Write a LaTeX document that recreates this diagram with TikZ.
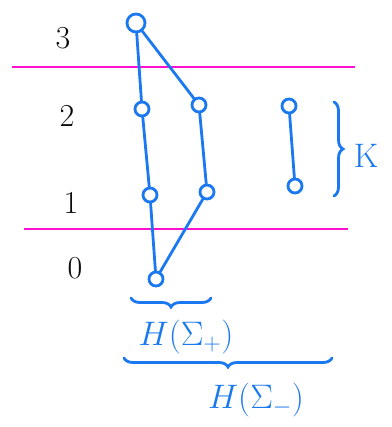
\RequirePackage{fix-cm}
\documentclass[tikz,border=0pt]{standalone}
\usepackage{amsmath,amssymb}
\usetikzlibrary{decorations.pathreplacing}
\definecolor{cPen}{HTML}{1A78F0}
\definecolor{cRule}{HTML}{FF10D0}
\definecolor{cInk}{HTML}{0B0B0B}

\begin{document}
\begin{tikzpicture}[
  x=1pt, y=-1pt,
  vtx/.style={circle, draw=cPen, line width=2.8pt, inner sep=0pt, minimum size=14pt},
  top/.style={vtx, minimum size=18pt},
  edge/.style={cPen, line width=2.8pt, line cap=round},
  level/.style={cRule, line width=2.6pt},
  grade/.style={font=\fontsize{32}{36}\selectfont, text=cInk},
  hand/.style={font=\fontsize{34}{38}\selectfont, text=cPen},
  brc/.style={cPen, line width=2.8pt, line cap=round,
    decorate, decoration={brace, amplitude=9pt}},
]
\useasboundingbox (0,0) rectangle (391,427);
% grading
\node[grade] (g3) at (63,38) {3};
\node[grade] (g2) at (67,116) {2};
\node[grade] (g1) at (71,203) {1};
\node[grade] (g0) at (75,268) {0};
\draw[level] (12,67) -- (355,67);
\draw[level] (24,229) -- (348,229);
% the poset
\node[top] (t) at (136,23) {};
\node[vtx] (a2) at (142,109) {};
\node[vtx] (b2) at (199,105) {};
\node[vtx] (a1) at (150,195) {};
\node[vtx] (b1) at (207,192) {};
\node[vtx] (bot) at (156,279) {};
\draw[edge] (t) -- (a2);
\draw[edge] (t) -- (b2);
\draw[edge] (a2) -- (a1);
\draw[edge] (b2) -- (b1);
\draw[edge] (a1) -- (bot);
\draw[edge] (b1) -- (bot);
% the interval K
\node[vtx] (k2) at (289,106) {};
\node[vtx] (k1) at (295,186) {};
\draw[edge] (k2) -- (k1);
\draw[brc] (334,102) -- (334,196);
\node[hand] (K) at (366,156) {K};
% homology braces
\draw[brc, decoration={mirror}] (131,298) -- (211,298);
\node[hand] (hp) at (186,337) {$H(\Sigma_+)$};
\draw[brc, decoration={mirror}] (124,358) -- (332,358);
\node[hand] (hm) at (256,400) {$H(\Sigma_-)$};
\end{tikzpicture}
\end{document}
